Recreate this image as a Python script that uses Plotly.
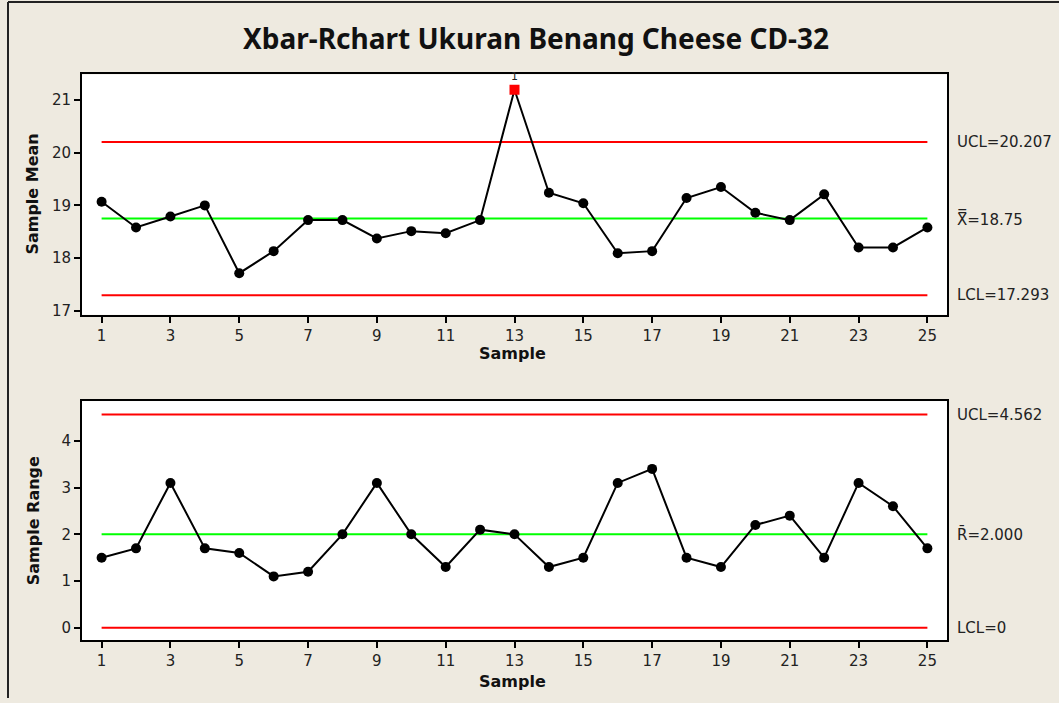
import plotly.graph_objects as go

# ---------------- data ----------------
samples = list(range(1, 26))
xbar_values = [19.07, 18.58, 18.79, 19.00, 17.71, 18.13, 18.72, 18.72, 18.37, 18.51,
               18.47, 18.72, 21.20, 19.24, 19.04, 18.09, 18.13, 19.14, 19.35, 18.86,
               18.72, 19.21, 18.20, 18.20, 18.58]
range_values = [1.5, 1.7, 3.1, 1.7, 1.6, 1.1, 1.2, 2.0, 3.1, 2.0,
                1.3, 2.1, 2.0, 1.3, 1.5, 3.1, 3.4, 1.5, 1.3, 2.2,
                2.4, 1.5, 3.1, 2.6, 1.7]
xbar_limits = {"UCL": 20.207, "CL": 18.75, "LCL": 17.293}
range_limits = {"UCL": 4.562, "CL": 2.000, "LCL": 0.0}
xbar_out_of_control = [13]
x_tick_vals = [1, 3, 5, 7, 9, 11, 13, 15, 17, 19, 21, 23, 25]
xbar_tick_vals = [17, 18, 19, 20, 21]
range_tick_vals = [0, 1, 2, 3, 4]
title_text = "Xbar-Rchart Ukuran Benang Cheese CD-32"

W, H = 1059, 703
BG = "#EEEAE0"
FONT = "DejaVu Sans"


def px(x):
    return x / W


def py(y):
    return 1 - y / H


fig = go.Figure()

# ---- control limit lines ----
def add_limits(limits, xa, ya):
    for key, color in (("UCL", "#FF0000"), ("CL", "#00FF00"), ("LCL", "#FF0000")):
        fig.add_trace(go.Scatter(
            x=[samples[0], samples[-1]], y=[limits[key], limits[key]],
            mode="lines", line=dict(color=color, width=2),
            xaxis=xa, yaxis=ya, hoverinfo="skip", showlegend=False))


add_limits(xbar_limits, "x", "y")
add_limits(range_limits, "x2", "y2")

# ---- xbar series (out-of-control points drawn as red squares) ----
xbar_colors = ["#FF0000" if s in xbar_out_of_control else "black" for s in samples]
xbar_symbols = ["square" if s in xbar_out_of_control else "circle" for s in samples]
fig.add_trace(go.Scatter(
    x=samples, y=xbar_values, mode="lines+markers",
    line=dict(color="black", width=2),
    marker=dict(color=xbar_colors, symbol=xbar_symbols, size=10),
    xaxis="x", yaxis="y", showlegend=False))
ooc_x = [s for s in samples if s in xbar_out_of_control]
ooc_y = [xbar_values[s - 1] for s in ooc_x]

# ---- range series ----
fig.add_trace(go.Scatter(
    x=samples, y=range_values, mode="lines+markers",
    line=dict(color="black", width=2),
    marker=dict(color="black", size=10),
    xaxis="x2", yaxis="y2", showlegend=False))

axis_common = dict(
    showline=True, mirror=True, linecolor="black", linewidth=2,
    ticks="outside", ticklen=6, tickwidth=1.5, tickcolor="black",
    showgrid=False, zeroline=False,
    tickfont=dict(family=FONT, size=15, color="#222222"),
)

x_dom = [px(82), px(947)]
fig.update_layout(
    width=W, height=H,
    paper_bgcolor=BG, plot_bgcolor="white",
    margin=dict(l=0, r=0, t=0, b=0),
    xaxis=dict(domain=x_dom, range=[0.43, 25.57], tickvals=x_tick_vals,
               anchor="y", **axis_common),
    yaxis=dict(domain=[py(317), py(75)], range=[16.92, 21.49],
               tickvals=xbar_tick_vals, anchor="x", **axis_common),
    xaxis2=dict(domain=x_dom, range=[0.43, 25.57], tickvals=x_tick_vals,
                anchor="y2", **axis_common),
    yaxis2=dict(domain=[py(645), py(404)], range=[-0.27, 4.85],
                tickvals=range_tick_vals, anchor="x2", **axis_common),
    showlegend=False,
)

annotations = []
# title
annotations.append(dict(text="<b>" + title_text + "</b>", x=px(536), y=py(38),
                        xref="paper", yref="paper", showarrow=False,
                        xanchor="center", yanchor="middle",
                        font=dict(family="Noto Sans", size=28, color="#111111")))
# axis titles
lab_font = dict(family=FONT, size=16, color="#111111")
for txt, x, y, ang in (("Sample Mean", 33, 196, -90), ("Sample Range", 33, 525, -90),
                       ("Sample", 512, 356, 0), ("Sample", 512, 686, 0)):
    annotations.append(dict(text="<b>" + txt + "</b>", x=px(x), y=py(y),
                            xref="paper", yref="paper", showarrow=False,
                            textangle=ang, xanchor="center", yanchor="middle",
                            font=lab_font))

# right-hand limit labels
rfont = dict(family=FONT, size=15, color="#222222")
annotations += [
    dict(text="UCL=%.3f" % xbar_limits["UCL"], y=xbar_limits["UCL"], yref="y"),
    dict(text="X\u033F=%.2f" % xbar_limits["CL"], y=xbar_limits["CL"], yref="y"),
    dict(text="LCL=%.3f" % xbar_limits["LCL"], y=xbar_limits["LCL"], yref="y"),
    dict(text="UCL=%.3f" % range_limits["UCL"], y=range_limits["UCL"], yref="y2"),
    dict(text="R\u0304=%.3f" % range_limits["CL"], y=range_limits["CL"], yref="y2"),
    dict(text="LCL=%g" % range_limits["LCL"], y=range_limits["LCL"], yref="y2"),
]
for a in annotations[-6:]:
    a.update(x=px(955), xref="paper", xanchor="left", yanchor="middle",
             showarrow=False, font=rfont)

# out-of-control marker labels
for xv, yv in zip(ooc_x, ooc_y):
    annotations.append(dict(text="1", x=xv, y=yv, xref="x", yref="y",
                            showarrow=False, yshift=13, yanchor="middle",
                            font=dict(family=FONT, size=11, color="#222222")))

fig.update_layout(annotations=annotations)

# outer frame (top and left edges)
fig.add_shape(type="line", xref="paper", yref="paper", x0=px(8), x1=1, y0=py(2), y1=py(2),
              line=dict(color="#222222", width=2))
fig.add_shape(type="line", xref="paper", yref="paper", x0=px(8), x1=px(8), y0=py(2), y1=0,
              line=dict(color="#222222", width=2))

fig.write_html("out.html", config={"displayModeBar": False},
               post_script="document.body.style.margin='0';document.body.style.overflow='hidden';")
